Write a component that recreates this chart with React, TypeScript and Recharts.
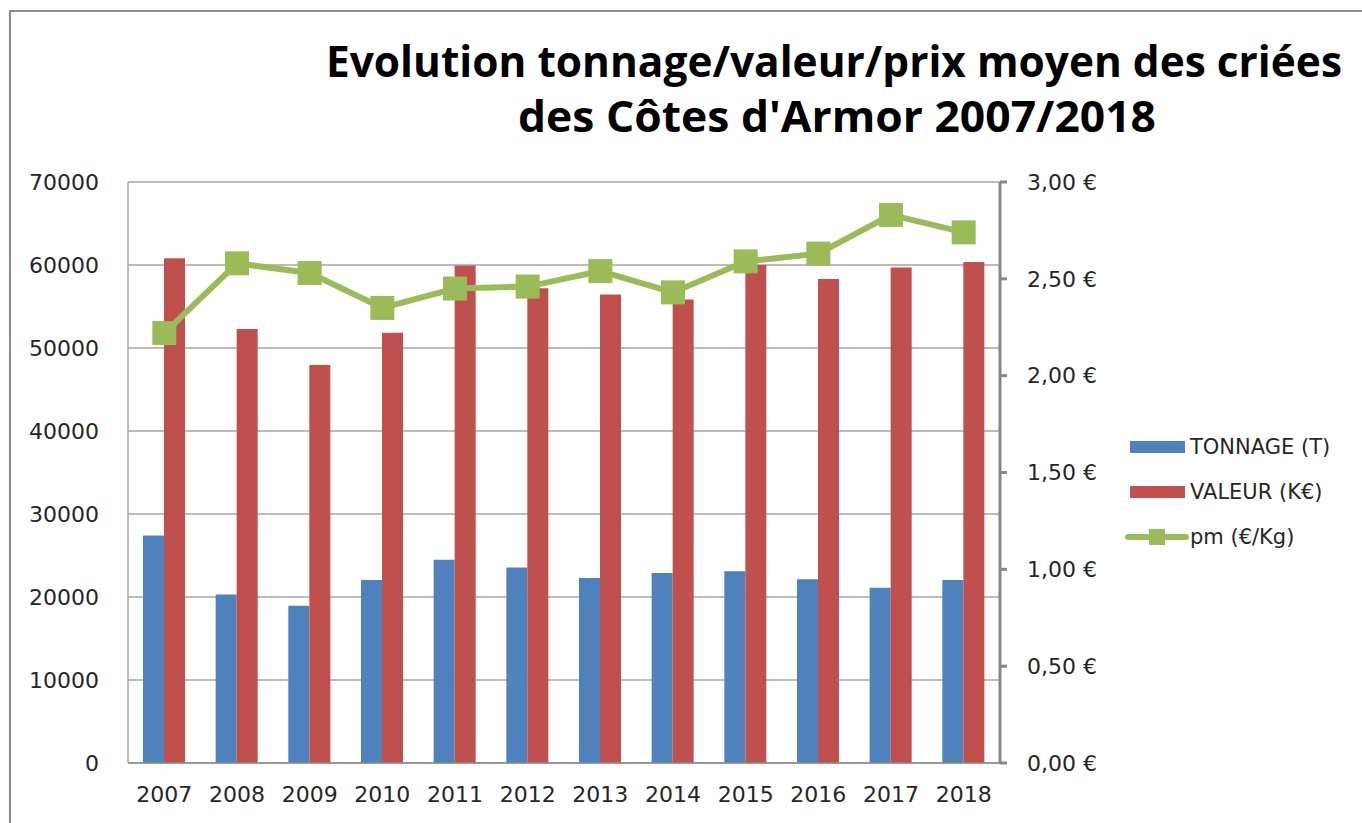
import React from "react";
import {
	ComposedChart,
	Bar,
	Line,
	XAxis,
	YAxis,
	CartesianGrid,
	Legend,
} from "recharts";

// values
const years = ["2007", "2008", "2009", "2010", "2011", "2012", "2013", "2014", "2015", "2016", "2017", "2018"];
const tonnage = [27400, 20300, 18950, 22050, 24500, 23550, 22300, 22900, 23100, 22150, 21100, 22050];
const valeur = [60800, 52300, 47950, 51850, 59950, 57200, 56450, 55850, 60000, 58300, 59700, 60350];
const prixMoyen = [2.22, 2.58, 2.53, 2.35, 2.45, 2.46, 2.54, 2.43, 2.59, 2.63, 2.83, 2.74];

const leftTicks = [0, 10000, 20000, 30000, 40000, 50000, 60000, 70000];
const rightTicks = [0, 0.5, 1, 1.5, 2, 2.5, 3];

const titleLines = ["Evolution tonnage/valeur/prix moyen des criées", "des Côtes d'Armor 2007/2018"];

const data = years.map((year, i) => ({
	year,
	tonnage: tonnage[i],
	valeur: valeur[i],
	pm: prixMoyen[i],
}));

const BLUE = "#4F81BD";
const RED = "#C0504D";
const GREEN = "#9BBB59";
const TEXT = "#262626";
const FONT = "'DejaVu Sans', sans-serif";
const TITLE_SCALE = 1.2;

const euro = (v: number) => v.toFixed(2).replace(".", ",") + "\u00a0€";

const SquareDot = (props: any) => {
	const { cx, cy, index } = props;
	if (cx == null || cy == null) return null;
	return <rect key={"dot-" + index} x={cx - 12} y={cy - 12} width={24} height={24} fill={GREEN} />;
};

const LegendContent = () => {
	const rows = [
		{ label: "TONNAGE (T)", kind: "bar", color: BLUE },
		{ label: "VALEUR (K€)", kind: "bar", color: RED },
		{ label: "pm (€/Kg)", kind: "line", color: GREEN },
	];
	return (
		<div>
			{rows.map((r) => (
				<div key={r.label} style={{ height: 45, display: "flex", alignItems: "center" }}>
					<svg width={66} height={24} style={{ display: "block" }}>
						{r.kind === "bar" ? (
							<rect x={6} y={6} width={55} height={12} fill={r.color} />
						) : (
							<g>
								<line x1={4} y1={12} x2={62} y2={12} stroke={r.color} strokeWidth={6} strokeLinecap="round" />
								<rect x={25} y={4} width={16} height={16} fill={r.color} />
							</g>
						)}
					</svg>
					<span style={{ fontFamily: FONT, fontSize: 21, color: TEXT, whiteSpace: "nowrap" }}>{r.label}</span>
				</div>
			))}
		</div>
	);
};

export default function App() {
	return (
		<div
			style={{
				position: "absolute",
				left: 0,
				top: 0,
				width: 1362,
				height: 823,
				background: "#fff",
				overflow: "hidden",
			}}
		>
			{/* chart area border */}
			<div
				style={{
					position: "absolute",
					left: 9,
					top: 10,
					width: 1400,
					height: 900,
					border: "2.5px solid #8c8c8c",
				}}
			/>
			<svg width={1362} height={150} style={{ position: "absolute", left: 0, top: 0 }}>
				<g transform={`scale(1, ${TITLE_SCALE})`}>
					<text
						x={834}
						y={77 / TITLE_SCALE}
						textAnchor="middle"
						textLength={1016}
						lengthAdjust="spacingAndGlyphs"
						fontFamily="'Open Sans', sans-serif"
						fontWeight="bold"
						fontSize={36}
						fill="#000"
					>
						{titleLines[0]}
					</text>
					<text
						x={837}
						y={132 / TITLE_SCALE}
						textAnchor="middle"
						textLength={638}
						lengthAdjust="spacingAndGlyphs"
						fontFamily="'Open Sans', sans-serif"
						fontWeight="bold"
						fontSize={36}
						fill="#000"
					>
						{titleLines[1]}
					</text>
				</g>
			</svg>
			<div style={{ position: "absolute", left: 0, top: 0 }}>
				<ComposedChart
					width={1362}
					height={823}
					data={data}
					margin={{ top: 182, right: 282, bottom: 10, left: 0 }}
					barGap={0}
				>
					<CartesianGrid
						yAxisId="left"
						vertical={false}
						stroke="#a6a6a6"
						strokeWidth={1.5}
					/>
					<XAxis
						dataKey="year"
						height={50}
						tickLine={false}
						tickMargin={17}
						axisLine={{ stroke: "#8c8c8c", strokeWidth: 1.5 }}
						tick={{ fill: TEXT, fontSize: 22, fontFamily: FONT }}
						interval={0}
					/>
					<YAxis
						yAxisId="left"
						orientation="left"
						width={128}
						domain={[0, 70000]}
						ticks={leftTicks}
						tickLine={false}
						tickMargin={23}
						axisLine={{ stroke: "#a6a6a6", strokeWidth: 1.5 }}
						tick={{ fill: TEXT, fontSize: 22, fontFamily: FONT }}
						interval={0}
					/>
					<YAxis
						yAxisId="right"
						orientation="right"
						width={80}
						domain={[0, 3]}
						ticks={rightTicks}
						tickFormatter={euro}
						tickSize={7}
						tickMargin={20}
						tickLine={{ stroke: "#868686", strokeWidth: 3 }}
						axisLine={{ stroke: "#868686", strokeWidth: 3 }}
						tick={{ fill: TEXT, fontSize: 22, fontFamily: FONT }}
						interval={0}
					/>
					<Bar yAxisId="left" dataKey="tonnage" name="TONNAGE (T)" fill={BLUE} barSize={21} isAnimationActive={false} />
					<Bar yAxisId="left" dataKey="valeur" name="VALEUR (K€)" fill={RED} barSize={21} isAnimationActive={false} />
					<Line
						yAxisId="right"
						dataKey="pm"
						name="pm (€/Kg)"
						stroke={GREEN}
						strokeWidth={6}
						dot={SquareDot}
						activeDot={false}
						isAnimationActive={false}
					/>
					<Legend
						layout="vertical"
						align="center"
						verticalAlign="middle"
						content={<LegendContent />}
						wrapperStyle={{ left: 1124, top: 424, width: 236, height: 135 }}
					/>
				</ComposedChart>
			</div>
		</div>
	);
}
